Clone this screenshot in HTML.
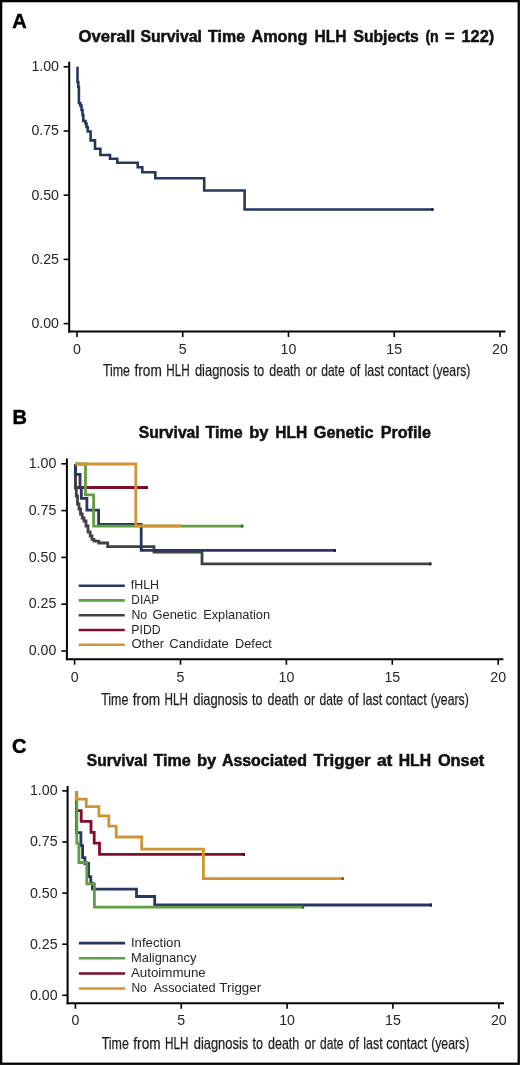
<!DOCTYPE html><html><head><meta charset="utf-8"><style>html,body{margin:0;padding:0;background:#fff;}svg{display:block;will-change:transform;}text{font-family:"Liberation Sans",sans-serif;}</style></head><body>
<svg width="520" height="1065" viewBox="0 0 520 1065">
<rect x="0" y="0" width="520" height="1065" fill="#fff"/>
<line x1="69.2" y1="61.7" x2="69.2" y2="332.5" stroke="#000" stroke-width="2"/>
<line x1="68.2" y1="331.5" x2="505.4" y2="331.5" stroke="#000" stroke-width="2"/>
<line x1="63.6" y1="323.60" x2="69.2" y2="323.60" stroke="#000" stroke-width="1.6"/>
<text x="59" y="328.00" font-size="14.2" font-weight="normal" text-anchor="end" fill="#262626">0.00</text>
<line x1="63.6" y1="259.40" x2="69.2" y2="259.40" stroke="#000" stroke-width="1.6"/>
<text x="59" y="263.80" font-size="14.2" font-weight="normal" text-anchor="end" fill="#262626">0.25</text>
<line x1="63.6" y1="195.20" x2="69.2" y2="195.20" stroke="#000" stroke-width="1.6"/>
<text x="59" y="199.60" font-size="14.2" font-weight="normal" text-anchor="end" fill="#262626">0.50</text>
<line x1="63.6" y1="131.00" x2="69.2" y2="131.00" stroke="#000" stroke-width="1.6"/>
<text x="59" y="135.40" font-size="14.2" font-weight="normal" text-anchor="end" fill="#262626">0.75</text>
<line x1="63.6" y1="66.80" x2="69.2" y2="66.80" stroke="#000" stroke-width="1.6"/>
<text x="59" y="71.20" font-size="14.2" font-weight="normal" text-anchor="end" fill="#262626">1.00</text>
<line x1="77.00" y1="331.5" x2="77.00" y2="337.0" stroke="#000" stroke-width="1.6"/>
<text x="77.00" y="353.5" font-size="14.2" font-weight="normal" text-anchor="middle" fill="#262626">0</text>
<line x1="182.75" y1="331.5" x2="182.75" y2="337.0" stroke="#000" stroke-width="1.6"/>
<text x="182.75" y="353.5" font-size="14.2" font-weight="normal" text-anchor="middle" fill="#262626">5</text>
<line x1="288.50" y1="331.5" x2="288.50" y2="337.0" stroke="#000" stroke-width="1.6"/>
<text x="288.50" y="353.5" font-size="14.2" font-weight="normal" text-anchor="middle" fill="#262626">10</text>
<line x1="394.25" y1="331.5" x2="394.25" y2="337.0" stroke="#000" stroke-width="1.6"/>
<text x="394.25" y="353.5" font-size="14.2" font-weight="normal" text-anchor="middle" fill="#262626">15</text>
<line x1="500.00" y1="331.5" x2="500.00" y2="337.0" stroke="#000" stroke-width="1.6"/>
<text x="500.00" y="353.5" font-size="14.2" font-weight="normal" text-anchor="middle" fill="#262626">20</text>
<text x="102.90" y="376.2" font-size="16.5" font-weight="normal" text-anchor="start" fill="#1e1e1e" textLength="27.10" lengthAdjust="spacingAndGlyphs" stroke="#1e1e1e" stroke-width="0.25">Time</text>
<text x="134.50" y="376.2" font-size="16.5" font-weight="normal" text-anchor="start" fill="#1e1e1e" textLength="27.30" lengthAdjust="spacingAndGlyphs" stroke="#1e1e1e" stroke-width="0.25">from</text>
<text x="166.20" y="376.2" font-size="16.5" font-weight="normal" text-anchor="start" fill="#1e1e1e" textLength="23.41" lengthAdjust="spacingAndGlyphs" stroke="#1e1e1e" stroke-width="0.25">HLH</text>
<text x="194.90" y="376.2" font-size="16.5" font-weight="normal" text-anchor="start" fill="#1e1e1e" textLength="54.60" lengthAdjust="spacingAndGlyphs" stroke="#1e1e1e" stroke-width="0.25">diagnosis</text>
<text x="253.80" y="376.2" font-size="16.5" font-weight="normal" text-anchor="start" fill="#1e1e1e" textLength="10.39" lengthAdjust="spacingAndGlyphs" stroke="#1e1e1e" stroke-width="0.25">to</text>
<text x="269.30" y="376.2" font-size="16.5" font-weight="normal" text-anchor="start" fill="#1e1e1e" textLength="31.17" lengthAdjust="spacingAndGlyphs" stroke="#1e1e1e" stroke-width="0.25">death</text>
<text x="305.70" y="376.2" font-size="16.5" font-weight="normal" text-anchor="start" fill="#1e1e1e" textLength="11.09" lengthAdjust="spacingAndGlyphs" stroke="#1e1e1e" stroke-width="0.25">or</text>
<text x="321.20" y="376.2" font-size="16.5" font-weight="normal" text-anchor="start" fill="#1e1e1e" textLength="23.42" lengthAdjust="spacingAndGlyphs" stroke="#1e1e1e" stroke-width="0.25">date</text>
<text x="349.70" y="376.2" font-size="16.5" font-weight="normal" text-anchor="start" fill="#1e1e1e" textLength="10.59" lengthAdjust="spacingAndGlyphs" stroke="#1e1e1e" stroke-width="0.25">of</text>
<text x="364.50" y="376.2" font-size="16.5" font-weight="normal" text-anchor="start" fill="#1e1e1e" textLength="19.51" lengthAdjust="spacingAndGlyphs" stroke="#1e1e1e" stroke-width="0.25">last</text>
<text x="387.40" y="376.2" font-size="16.5" font-weight="normal" text-anchor="start" fill="#1e1e1e" textLength="41.09" lengthAdjust="spacingAndGlyphs" stroke="#1e1e1e" stroke-width="0.25">contact</text>
<text x="432.40" y="376.2" font-size="16.5" font-weight="normal" text-anchor="start" fill="#1e1e1e" textLength="38.02" lengthAdjust="spacingAndGlyphs" stroke="#1e1e1e" stroke-width="0.25">(years)</text>
<text x="78.50" y="41.5" font-size="16" font-weight="bold" text-anchor="start" fill="#111" textLength="56.52" lengthAdjust="spacingAndGlyphs" stroke="#111" stroke-width="0.5">Overall</text>
<text x="140.40" y="41.5" font-size="16" font-weight="bold" text-anchor="start" fill="#111" textLength="61.52" lengthAdjust="spacingAndGlyphs" stroke="#111" stroke-width="0.5">Survival</text>
<text x="208.10" y="41.5" font-size="16" font-weight="bold" text-anchor="start" fill="#111" textLength="36.91" lengthAdjust="spacingAndGlyphs" stroke="#111" stroke-width="0.5">Time</text>
<text x="251.50" y="41.5" font-size="16" font-weight="bold" text-anchor="start" fill="#111" textLength="55.78" lengthAdjust="spacingAndGlyphs" stroke="#111" stroke-width="0.5">Among</text>
<text x="314.60" y="41.5" font-size="16" font-weight="bold" text-anchor="start" fill="#111" textLength="31.90" lengthAdjust="spacingAndGlyphs" stroke="#111" stroke-width="0.5">HLH</text>
<text x="353.50" y="41.5" font-size="16" font-weight="bold" text-anchor="start" fill="#111" textLength="65.27" lengthAdjust="spacingAndGlyphs" stroke="#111" stroke-width="0.5">Subjects</text>
<text x="425.40" y="41.5" font-size="16" font-weight="bold" text-anchor="start" fill="#111" textLength="13.38" lengthAdjust="spacingAndGlyphs" stroke="#111" stroke-width="0.5">(n</text>
<text x="445.00" y="41.5" font-size="16" font-weight="bold" text-anchor="start" fill="#111" textLength="9.58" lengthAdjust="spacingAndGlyphs" stroke="#111" stroke-width="0.5">=</text>
<text x="461.50" y="41.5" font-size="16" font-weight="bold" text-anchor="start" fill="#111" textLength="32.73" lengthAdjust="spacingAndGlyphs" stroke="#111" stroke-width="0.5">122)</text>
<text x="12.2" y="27.8" font-size="20" font-weight="bold" text-anchor="start" fill="#000" stroke="#000" stroke-width="0.5">A</text>
<line x1="66.9" y1="458.5" x2="66.9" y2="660.2" stroke="#000" stroke-width="2"/>
<line x1="65.9" y1="659.2" x2="503.4" y2="659.2" stroke="#000" stroke-width="2"/>
<line x1="61.3" y1="651.00" x2="66.9" y2="651.00" stroke="#000" stroke-width="1.6"/>
<text x="56.3" y="655.20" font-size="14.2" font-weight="normal" text-anchor="end" fill="#262626">0.00</text>
<line x1="61.3" y1="604.20" x2="66.9" y2="604.20" stroke="#000" stroke-width="1.6"/>
<text x="56.3" y="608.40" font-size="14.2" font-weight="normal" text-anchor="end" fill="#262626">0.25</text>
<line x1="61.3" y1="557.40" x2="66.9" y2="557.40" stroke="#000" stroke-width="1.6"/>
<text x="56.3" y="561.60" font-size="14.2" font-weight="normal" text-anchor="end" fill="#262626">0.50</text>
<line x1="61.3" y1="510.60" x2="66.9" y2="510.60" stroke="#000" stroke-width="1.6"/>
<text x="56.3" y="514.80" font-size="14.2" font-weight="normal" text-anchor="end" fill="#262626">0.75</text>
<line x1="61.3" y1="463.80" x2="66.9" y2="463.80" stroke="#000" stroke-width="1.6"/>
<text x="56.3" y="468.00" font-size="14.2" font-weight="normal" text-anchor="end" fill="#262626">1.00</text>
<line x1="74.60" y1="659.2" x2="74.60" y2="664.7" stroke="#000" stroke-width="1.6"/>
<text x="74.60" y="681.5" font-size="14.2" font-weight="normal" text-anchor="middle" fill="#262626">0</text>
<line x1="180.50" y1="659.2" x2="180.50" y2="664.7" stroke="#000" stroke-width="1.6"/>
<text x="180.50" y="681.5" font-size="14.2" font-weight="normal" text-anchor="middle" fill="#262626">5</text>
<line x1="286.40" y1="659.2" x2="286.40" y2="664.7" stroke="#000" stroke-width="1.6"/>
<text x="286.40" y="681.5" font-size="14.2" font-weight="normal" text-anchor="middle" fill="#262626">10</text>
<line x1="392.30" y1="659.2" x2="392.30" y2="664.7" stroke="#000" stroke-width="1.6"/>
<text x="392.30" y="681.5" font-size="14.2" font-weight="normal" text-anchor="middle" fill="#262626">15</text>
<line x1="498.20" y1="659.2" x2="498.20" y2="664.7" stroke="#000" stroke-width="1.6"/>
<text x="498.20" y="681.5" font-size="14.2" font-weight="normal" text-anchor="middle" fill="#262626">20</text>
<text x="101.20" y="704.5" font-size="16.5" font-weight="normal" text-anchor="start" fill="#1e1e1e" textLength="27.10" lengthAdjust="spacingAndGlyphs" stroke="#1e1e1e" stroke-width="0.25">Time</text>
<text x="132.80" y="704.5" font-size="16.5" font-weight="normal" text-anchor="start" fill="#1e1e1e" textLength="27.30" lengthAdjust="spacingAndGlyphs" stroke="#1e1e1e" stroke-width="0.25">from</text>
<text x="164.50" y="704.5" font-size="16.5" font-weight="normal" text-anchor="start" fill="#1e1e1e" textLength="23.41" lengthAdjust="spacingAndGlyphs" stroke="#1e1e1e" stroke-width="0.25">HLH</text>
<text x="193.20" y="704.5" font-size="16.5" font-weight="normal" text-anchor="start" fill="#1e1e1e" textLength="54.60" lengthAdjust="spacingAndGlyphs" stroke="#1e1e1e" stroke-width="0.25">diagnosis</text>
<text x="252.10" y="704.5" font-size="16.5" font-weight="normal" text-anchor="start" fill="#1e1e1e" textLength="10.39" lengthAdjust="spacingAndGlyphs" stroke="#1e1e1e" stroke-width="0.25">to</text>
<text x="267.60" y="704.5" font-size="16.5" font-weight="normal" text-anchor="start" fill="#1e1e1e" textLength="31.17" lengthAdjust="spacingAndGlyphs" stroke="#1e1e1e" stroke-width="0.25">death</text>
<text x="304.00" y="704.5" font-size="16.5" font-weight="normal" text-anchor="start" fill="#1e1e1e" textLength="11.09" lengthAdjust="spacingAndGlyphs" stroke="#1e1e1e" stroke-width="0.25">or</text>
<text x="319.50" y="704.5" font-size="16.5" font-weight="normal" text-anchor="start" fill="#1e1e1e" textLength="23.42" lengthAdjust="spacingAndGlyphs" stroke="#1e1e1e" stroke-width="0.25">date</text>
<text x="348.00" y="704.5" font-size="16.5" font-weight="normal" text-anchor="start" fill="#1e1e1e" textLength="10.59" lengthAdjust="spacingAndGlyphs" stroke="#1e1e1e" stroke-width="0.25">of</text>
<text x="362.80" y="704.5" font-size="16.5" font-weight="normal" text-anchor="start" fill="#1e1e1e" textLength="19.51" lengthAdjust="spacingAndGlyphs" stroke="#1e1e1e" stroke-width="0.25">last</text>
<text x="385.70" y="704.5" font-size="16.5" font-weight="normal" text-anchor="start" fill="#1e1e1e" textLength="41.09" lengthAdjust="spacingAndGlyphs" stroke="#1e1e1e" stroke-width="0.25">contact</text>
<text x="430.70" y="704.5" font-size="16.5" font-weight="normal" text-anchor="start" fill="#1e1e1e" textLength="38.02" lengthAdjust="spacingAndGlyphs" stroke="#1e1e1e" stroke-width="0.25">(years)</text>
<text x="138.80" y="438" font-size="16" font-weight="bold" text-anchor="start" fill="#111" textLength="60.82" lengthAdjust="spacingAndGlyphs" stroke="#111" stroke-width="0.5">Survival</text>
<text x="205.60" y="438" font-size="16" font-weight="bold" text-anchor="start" fill="#111" textLength="37.12" lengthAdjust="spacingAndGlyphs" stroke="#111" stroke-width="0.5">Time</text>
<text x="249.20" y="438" font-size="16" font-weight="bold" text-anchor="start" fill="#111" textLength="19.33" lengthAdjust="spacingAndGlyphs" stroke="#111" stroke-width="0.5">by</text>
<text x="275.30" y="438" font-size="16" font-weight="bold" text-anchor="start" fill="#111" textLength="31.90" lengthAdjust="spacingAndGlyphs" stroke="#111" stroke-width="0.5">HLH</text>
<text x="313.80" y="438" font-size="16" font-weight="bold" text-anchor="start" fill="#111" textLength="59.67" lengthAdjust="spacingAndGlyphs" stroke="#111" stroke-width="0.5">Genetic</text>
<text x="380.80" y="438" font-size="16" font-weight="bold" text-anchor="start" fill="#111" textLength="50.03" lengthAdjust="spacingAndGlyphs" stroke="#111" stroke-width="0.5">Profile</text>
<text x="12.6" y="424.3" font-size="20" font-weight="bold" text-anchor="start" fill="#000" stroke="#000" stroke-width="0.5">B</text>
<line x1="67.6" y1="786" x2="67.6" y2="1004.3" stroke="#000" stroke-width="2"/>
<line x1="66.6" y1="1003.3" x2="504" y2="1003.3" stroke="#000" stroke-width="2"/>
<line x1="62.3" y1="995.30" x2="67.6" y2="995.30" stroke="#000" stroke-width="1.6"/>
<text x="57.6" y="999.70" font-size="14.2" font-weight="normal" text-anchor="end" fill="#262626">0.00</text>
<line x1="62.3" y1="944.20" x2="67.6" y2="944.20" stroke="#000" stroke-width="1.6"/>
<text x="57.6" y="948.60" font-size="14.2" font-weight="normal" text-anchor="end" fill="#262626">0.25</text>
<line x1="62.3" y1="893.10" x2="67.6" y2="893.10" stroke="#000" stroke-width="1.6"/>
<text x="57.6" y="897.50" font-size="14.2" font-weight="normal" text-anchor="end" fill="#262626">0.50</text>
<line x1="62.3" y1="842.00" x2="67.6" y2="842.00" stroke="#000" stroke-width="1.6"/>
<text x="57.6" y="846.40" font-size="14.2" font-weight="normal" text-anchor="end" fill="#262626">0.75</text>
<line x1="62.3" y1="790.90" x2="67.6" y2="790.90" stroke="#000" stroke-width="1.6"/>
<text x="57.6" y="795.30" font-size="14.2" font-weight="normal" text-anchor="end" fill="#262626">1.00</text>
<line x1="75.40" y1="1003.3" x2="75.40" y2="1008.8" stroke="#000" stroke-width="1.6"/>
<text x="75.40" y="1025.3" font-size="14.2" font-weight="normal" text-anchor="middle" fill="#262626">0</text>
<line x1="181.25" y1="1003.3" x2="181.25" y2="1008.8" stroke="#000" stroke-width="1.6"/>
<text x="181.25" y="1025.3" font-size="14.2" font-weight="normal" text-anchor="middle" fill="#262626">5</text>
<line x1="287.10" y1="1003.3" x2="287.10" y2="1008.8" stroke="#000" stroke-width="1.6"/>
<text x="287.10" y="1025.3" font-size="14.2" font-weight="normal" text-anchor="middle" fill="#262626">10</text>
<line x1="392.95" y1="1003.3" x2="392.95" y2="1008.8" stroke="#000" stroke-width="1.6"/>
<text x="392.95" y="1025.3" font-size="14.2" font-weight="normal" text-anchor="middle" fill="#262626">15</text>
<line x1="498.80" y1="1003.3" x2="498.80" y2="1008.8" stroke="#000" stroke-width="1.6"/>
<text x="498.80" y="1025.3" font-size="14.2" font-weight="normal" text-anchor="middle" fill="#262626">20</text>
<text x="101.70" y="1048.5" font-size="16.5" font-weight="normal" text-anchor="start" fill="#1e1e1e" textLength="27.10" lengthAdjust="spacingAndGlyphs" stroke="#1e1e1e" stroke-width="0.25">Time</text>
<text x="133.30" y="1048.5" font-size="16.5" font-weight="normal" text-anchor="start" fill="#1e1e1e" textLength="27.30" lengthAdjust="spacingAndGlyphs" stroke="#1e1e1e" stroke-width="0.25">from</text>
<text x="165.00" y="1048.5" font-size="16.5" font-weight="normal" text-anchor="start" fill="#1e1e1e" textLength="23.41" lengthAdjust="spacingAndGlyphs" stroke="#1e1e1e" stroke-width="0.25">HLH</text>
<text x="193.70" y="1048.5" font-size="16.5" font-weight="normal" text-anchor="start" fill="#1e1e1e" textLength="54.60" lengthAdjust="spacingAndGlyphs" stroke="#1e1e1e" stroke-width="0.25">diagnosis</text>
<text x="252.60" y="1048.5" font-size="16.5" font-weight="normal" text-anchor="start" fill="#1e1e1e" textLength="10.39" lengthAdjust="spacingAndGlyphs" stroke="#1e1e1e" stroke-width="0.25">to</text>
<text x="268.10" y="1048.5" font-size="16.5" font-weight="normal" text-anchor="start" fill="#1e1e1e" textLength="31.17" lengthAdjust="spacingAndGlyphs" stroke="#1e1e1e" stroke-width="0.25">death</text>
<text x="304.50" y="1048.5" font-size="16.5" font-weight="normal" text-anchor="start" fill="#1e1e1e" textLength="11.09" lengthAdjust="spacingAndGlyphs" stroke="#1e1e1e" stroke-width="0.25">or</text>
<text x="320.00" y="1048.5" font-size="16.5" font-weight="normal" text-anchor="start" fill="#1e1e1e" textLength="23.42" lengthAdjust="spacingAndGlyphs" stroke="#1e1e1e" stroke-width="0.25">date</text>
<text x="348.50" y="1048.5" font-size="16.5" font-weight="normal" text-anchor="start" fill="#1e1e1e" textLength="10.59" lengthAdjust="spacingAndGlyphs" stroke="#1e1e1e" stroke-width="0.25">of</text>
<text x="363.30" y="1048.5" font-size="16.5" font-weight="normal" text-anchor="start" fill="#1e1e1e" textLength="19.51" lengthAdjust="spacingAndGlyphs" stroke="#1e1e1e" stroke-width="0.25">last</text>
<text x="386.20" y="1048.5" font-size="16.5" font-weight="normal" text-anchor="start" fill="#1e1e1e" textLength="41.09" lengthAdjust="spacingAndGlyphs" stroke="#1e1e1e" stroke-width="0.25">contact</text>
<text x="431.20" y="1048.5" font-size="16.5" font-weight="normal" text-anchor="start" fill="#1e1e1e" textLength="38.02" lengthAdjust="spacingAndGlyphs" stroke="#1e1e1e" stroke-width="0.25">(years)</text>
<text x="86.80" y="765.6" font-size="16" font-weight="bold" text-anchor="start" fill="#111" textLength="60.52" lengthAdjust="spacingAndGlyphs" stroke="#111" stroke-width="0.5">Survival</text>
<text x="153.50" y="765.6" font-size="16" font-weight="bold" text-anchor="start" fill="#111" textLength="37.32" lengthAdjust="spacingAndGlyphs" stroke="#111" stroke-width="0.5">Time</text>
<text x="196.90" y="765.6" font-size="16" font-weight="bold" text-anchor="start" fill="#111" textLength="19.33" lengthAdjust="spacingAndGlyphs" stroke="#111" stroke-width="0.5">by</text>
<text x="221.90" y="765.6" font-size="16" font-weight="bold" text-anchor="start" fill="#111" textLength="85.01" lengthAdjust="spacingAndGlyphs" stroke="#111" stroke-width="0.5">Associated</text>
<text x="313.50" y="765.6" font-size="16" font-weight="bold" text-anchor="start" fill="#111" textLength="57.19" lengthAdjust="spacingAndGlyphs" stroke="#111" stroke-width="0.5">Trigger</text>
<text x="376.90" y="765.6" font-size="16" font-weight="bold" text-anchor="start" fill="#111" textLength="15.39" lengthAdjust="spacingAndGlyphs" stroke="#111" stroke-width="0.5">at</text>
<text x="398.70" y="765.6" font-size="16" font-weight="bold" text-anchor="start" fill="#111" textLength="32.30" lengthAdjust="spacingAndGlyphs" stroke="#111" stroke-width="0.5">HLH</text>
<text x="437.90" y="765.6" font-size="16" font-weight="bold" text-anchor="start" fill="#111" textLength="46.28" lengthAdjust="spacingAndGlyphs" stroke="#111" stroke-width="0.5">Onset</text>
<text x="12.0" y="752.5" font-size="20" font-weight="bold" text-anchor="start" fill="#000" stroke="#000" stroke-width="0.5">C</text>
<path d="M77.5,66.8 V82 H78.3 V87 H78.9 V103 H80.3 V105.5 H81.5 V110 H82.5 V115 H83.3 V121 H85.5 V123.5 H86.5 V127 H87.7 V131.5 H90.6 V140.4 H95 V148.8 H100.4 V155 H110 V158.8 H117.3 V162.7 H137.7 V167.3 H142.3 V172.2 H155.3 V178.2 H204.2 V190.5 H244.6 V209.5 H433.5" fill="none" stroke="#26375e" stroke-width="2.6" stroke-linejoin="miter" stroke-linecap="butt"/>
<rect x="431.30" y="208.20" width="2.2" height="2.6" fill="#162138"/>
<path d="M75.5,464 V487.5 H147.7" fill="none" stroke="#820d2a" stroke-width="2.8" stroke-linejoin="miter" stroke-linecap="butt"/>
<rect x="145.50" y="486.10" width="2.2" height="2.8" fill="#4e0719"/>
<path d="M75.5,464 V488 H76.3 V496 H77.5 V504 H79 V509 H80.5 V514 H82.2 V518 H84 V521 H86 V526 H88 V532 H90.2 V536 H92 V539.4 H94 V541.2 H98.8 V543 H107.7 V546.6 H154 V552 H202 V563.8 H431.4" fill="none" stroke="#3f4148" stroke-width="2.8" stroke-linejoin="miter" stroke-linecap="butt"/>
<rect x="429.20" y="562.40" width="2.2" height="2.8" fill="#25272b"/>
<path d="M75.5,464 V474.4 H80 V487.9 H81.3 V498.4 H86.9 V510.2 H98.6 V524.3 H141.2 V550.4 H335.9" fill="none" stroke="#27375f" stroke-width="2.8" stroke-linejoin="miter" stroke-linecap="butt"/>
<rect x="333.70" y="549.00" width="2.2" height="2.8" fill="#172139"/>
<path d="M75.5,464 H85.5 V494.8 H93.6 V526.1 H243.3" fill="none" stroke="#619e42" stroke-width="2.8" stroke-linejoin="miter" stroke-linecap="butt"/>
<rect x="241.10" y="524.70" width="2.2" height="2.8" fill="#3a5e27"/>
<path d="M75.3,464 H135.8 V525.8 H181.5" fill="none" stroke="#d09433" stroke-width="2.8" stroke-linejoin="miter" stroke-linecap="butt"/>
<line x1="78.7" y1="585.8" x2="124.8" y2="585.8" stroke="#27375f" stroke-width="2.6"/>
<text x="130.80" y="589.40" font-size="13" font-weight="normal" text-anchor="start" fill="#262626" textLength="28.28" lengthAdjust="spacingAndGlyphs">fHLH</text>
<line x1="78.7" y1="600.4" x2="124.8" y2="600.4" stroke="#619e42" stroke-width="2.6"/>
<text x="131.30" y="604.00" font-size="13" font-weight="normal" text-anchor="start" fill="#262626" textLength="27.79" lengthAdjust="spacingAndGlyphs">DIAP</text>
<line x1="78.7" y1="615.2" x2="124.8" y2="615.2" stroke="#3f4148" stroke-width="2.6"/>
<text x="131.40" y="618.80" font-size="13" font-weight="normal" text-anchor="start" fill="#262626" textLength="15.78" lengthAdjust="spacingAndGlyphs">No</text>
<text x="152.50" y="618.80" font-size="13" font-weight="normal" text-anchor="start" fill="#262626" textLength="44.42" lengthAdjust="spacingAndGlyphs">Genetic</text>
<text x="203.20" y="618.80" font-size="13" font-weight="normal" text-anchor="start" fill="#262626" textLength="66.82" lengthAdjust="spacingAndGlyphs">Explanation</text>
<line x1="78.7" y1="630.0" x2="124.8" y2="630.0" stroke="#820d2a" stroke-width="2.6"/>
<text x="131.30" y="633.60" font-size="13" font-weight="normal" text-anchor="start" fill="#262626" textLength="29.29" lengthAdjust="spacingAndGlyphs">PIDD</text>
<line x1="78.7" y1="644.8" x2="124.8" y2="644.8" stroke="#d09433" stroke-width="2.6"/>
<text x="131.40" y="648.40" font-size="13" font-weight="normal" text-anchor="start" fill="#262626" textLength="32.61" lengthAdjust="spacingAndGlyphs">Other</text>
<text x="169.30" y="648.40" font-size="13" font-weight="normal" text-anchor="start" fill="#262626" textLength="59.49" lengthAdjust="spacingAndGlyphs">Candidate</text>
<text x="235.10" y="648.40" font-size="13" font-weight="normal" text-anchor="start" fill="#262626" textLength="36.80" lengthAdjust="spacingAndGlyphs">Defect</text>
<path d="M76.5,790.9 V810.7 H81.2 V821.4 H91 V832.3 H94.2 V843.2 H99.5 V854.4 H245" fill="none" stroke="#820d2a" stroke-width="2.8" stroke-linejoin="miter" stroke-linecap="butt"/>
<rect x="242.80" y="853.00" width="2.2" height="2.8" fill="#4e0719"/>
<path d="M76.5,790.9 V832.7 H80.9 V845.7 H82.6 V857.6 H84.9 V863.5 H88.6 V876.7 H90.8 V883.2 H92.5 V889.2 H136.5 V896.5 H154.7 V905 H432" fill="none" stroke="#27375f" stroke-width="2.8" stroke-linejoin="miter" stroke-linecap="butt"/>
<rect x="429.80" y="903.60" width="2.2" height="2.8" fill="#172139"/>
<path d="M76.8,790.9 V843.4 H78.9 V862.5 H86.8 V883.9 H94.4 V907.1 H304.1" fill="none" stroke="#619e42" stroke-width="2.8" stroke-linejoin="miter" stroke-linecap="butt"/>
<rect x="301.90" y="905.70" width="2.2" height="2.8" fill="#3a5e27"/>
<path d="M76.3,790.9 V799.2 H86.3 V806.6 H98.9 V815.8 H108.8 V826.2 H116.2 V837 H141.7 V849.1 H203.4 V878.6 H343.8" fill="none" stroke="#d09433" stroke-width="2.8" stroke-linejoin="miter" stroke-linecap="butt"/>
<rect x="341.60" y="877.20" width="2.2" height="2.8" fill="#7c581e"/>
<line x1="78.9" y1="943.1" x2="125.1" y2="943.1" stroke="#27375f" stroke-width="2.6"/>
<text x="130.90" y="946.70" font-size="13" font-weight="normal" text-anchor="start" fill="#262626" textLength="49.90" lengthAdjust="spacingAndGlyphs">Infection</text>
<line x1="78.9" y1="958.2" x2="125.1" y2="958.2" stroke="#619e42" stroke-width="2.6"/>
<text x="130.90" y="961.80" font-size="13" font-weight="normal" text-anchor="start" fill="#262626" textLength="65.58" lengthAdjust="spacingAndGlyphs">Malignancy</text>
<line x1="78.9" y1="973.5" x2="125.1" y2="973.5" stroke="#820d2a" stroke-width="2.6"/>
<text x="130.90" y="977.10" font-size="13" font-weight="normal" text-anchor="start" fill="#262626" textLength="74.89" lengthAdjust="spacingAndGlyphs">Autoimmune</text>
<line x1="78.9" y1="988.5" x2="125.1" y2="988.5" stroke="#d09433" stroke-width="2.6"/>
<text x="131.40" y="992.10" font-size="13" font-weight="normal" text-anchor="start" fill="#262626" textLength="15.38" lengthAdjust="spacingAndGlyphs">No</text>
<text x="153.40" y="992.10" font-size="13" font-weight="normal" text-anchor="start" fill="#262626" textLength="62.22" lengthAdjust="spacingAndGlyphs">Associated</text>
<text x="219.30" y="992.10" font-size="13" font-weight="normal" text-anchor="start" fill="#262626" textLength="41.91" lengthAdjust="spacingAndGlyphs">Trigger</text>
<rect x="1.15" y="1.15" width="517.6" height="1062.6" fill="none" stroke="#000" stroke-width="2.3"/>
</svg></body></html>
